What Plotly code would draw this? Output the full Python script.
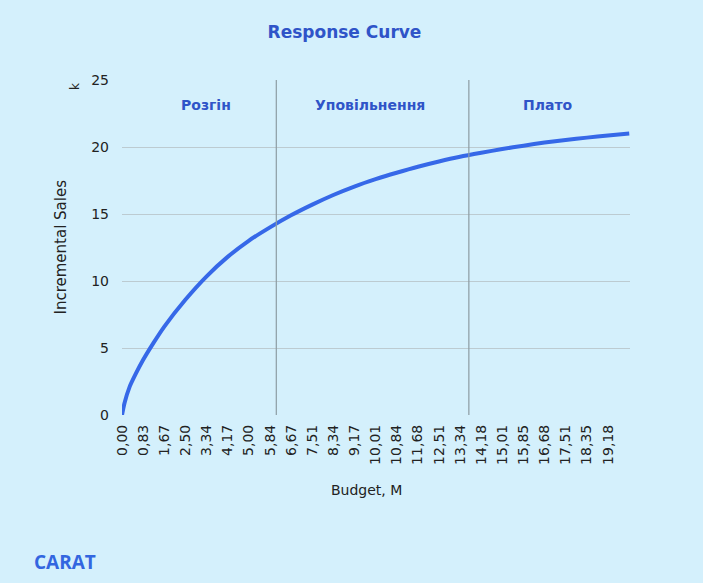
import plotly.graph_objects as go

# budget (M) and incremental sales (k)
budget = [0, 0.1, 0.3, 0.55, 0.83, 1.25, 1.67, 2.50, 3.34, 4.17, 5.00, 5.84,
          6.67, 7.51, 8.34, 9.17, 10.01, 10.84, 11.68, 12.51, 13.34, 14.18,
          15.01, 15.85, 16.68, 17.51, 18.35, 19.18, 20.02]
sales = [0, 0.9, 2.1, 3.1, 4.1, 5.4, 6.6, 8.6, 10.35, 11.8, 13.0, 14.0,
         14.9, 15.7, 16.42, 17.05, 17.6, 18.08, 18.53, 18.92, 19.27, 19.57,
         19.85, 20.1, 20.33, 20.52, 20.7, 20.85, 21.0]

tick_labels = ["0,00", "0,83", "1,67", "2,50", "3,34", "4,17", "5,00", "5,84",
               "6,67", "7,51", "8,34", "9,17", "10,01", "10,84", "11,68", "12,51",
               "13,34", "14,18", "15,01", "15,85", "16,68", "17,51", "18,35", "19,18"]
tick_vals = [float(t.replace(",", ".")) for t in tick_labels]

phase_bounds = [6.09, 13.69]
phase_names = ["Розгін", "Уповільнення", "Плато"]
phase_x = [3.32, 9.79, 16.81]

bg = "#d4f0fc"
blue = "#2f54c8"
font = "DejaVu Sans"
dark = "#222"

fig = go.Figure()
fig.add_trace(go.Scatter(x=budget, y=sales, mode="lines",
                         line=dict(color="#3668e8", width=4, shape="spline", smoothing=0.6),
                         hoverinfo="skip"))

for b in phase_bounds:
    fig.add_vline(x=b, line=dict(color="#8c9ca3", width=1.2))

for name, px_ in zip(phase_names, phase_x):
    fig.add_annotation(x=px_, y=23.13, text="<b>%s</b>" % name, showarrow=False,
                       font=dict(family=font, size=14, color=blue))

fig.add_annotation(xref="paper", yref="paper", x=-0.0925, y=0.979, text="k",
                   textangle=-90, showarrow=False, xanchor="center", yanchor="middle",
                   font=dict(family=font, size=12, color=dark))
fig.add_annotation(xref="paper", yref="paper", x=-0.122, y=0.5, text="Incremental Sales",
                   textangle=-90, showarrow=False, xanchor="center", yanchor="middle",
                   font=dict(family=font, size=15, color=dark))
fig.add_annotation(xref="paper", yref="paper", x=0.482, y=-0.224, xanchor="center",
                   yanchor="middle", text="Budget, M", showarrow=False,
                   font=dict(family=font, size=14, color=dark))
fig.add_annotation(xref="paper", yref="paper", x=-0.113, y=-0.439, xanchor="center",
                   yanchor="middle", text="<b>CARAT</b>", showarrow=False,
                   font=dict(family="Open Sans", size=19, color="#3366e0"))

fig.update_layout(
    width=703, height=583,
    margin=dict(l=122, r=73, t=80, b=168),
    paper_bgcolor=bg, plot_bgcolor=bg,
    showlegend=False,
    title=dict(text="<b>Response Curve</b>", x=0.49, xanchor="center",
               y=0.945, yanchor="middle",
               font=dict(family=font, size=17, color=blue)),
    xaxis=dict(range=[0, 20.05], tickvals=tick_vals, ticktext=tick_labels,
               tickangle=-90, showgrid=False, zeroline=False, showline=False,
               ticks="", ticklabelstandoff=6,
               tickfont=dict(family=font, size=14, color=dark)),
    yaxis=dict(range=[0, 25], dtick=5, showgrid=True, gridcolor="#bccbd1",
               gridwidth=1, zeroline=False, showline=False, ticks="",
               ticklabelstandoff=12,
               tickfont=dict(family=font, size=14, color=dark)),
)

fig.write_html("out.html", config={"displayModeBar": False},
               post_script="document.body.style.margin='0';"
                           "document.body.style.background='%s';" % bg)
